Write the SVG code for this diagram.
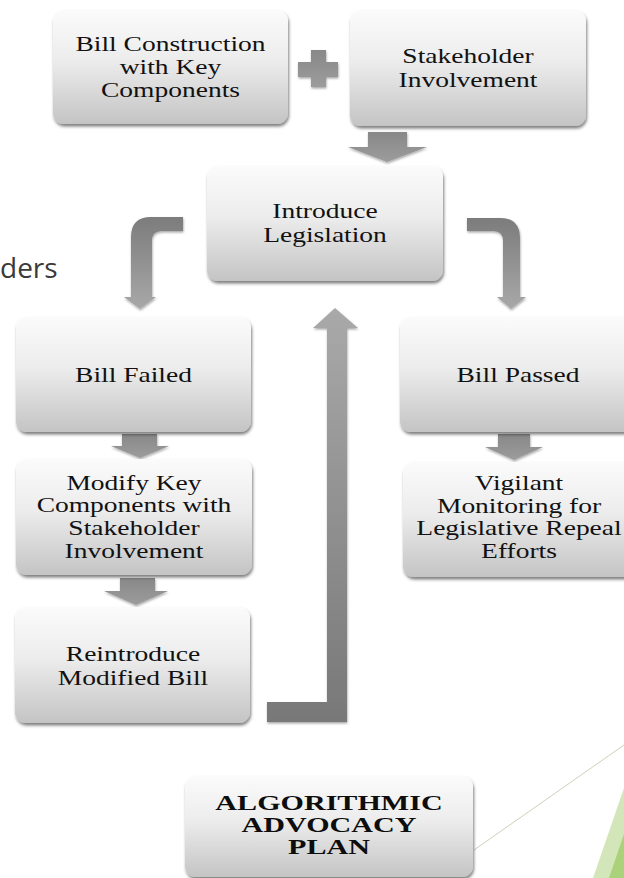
<svg xmlns="http://www.w3.org/2000/svg" width="624" height="878" viewBox="0 0 624 878">
<defs>
<linearGradient id="boxg" x1="0" y1="0" x2="0" y2="1">
<stop offset="0" stop-color="#fbfbfb"/>
<stop offset="0.45" stop-color="#ececec"/>
<stop offset="1" stop-color="#c4c4c4"/>
</linearGradient>
<linearGradient id="arrg" x1="0" y1="0" x2="0" y2="1">
<stop offset="0" stop-color="#888888"/>
<stop offset="1" stop-color="#9c9c9c"/>
</linearGradient>
<linearGradient id="bendg" x1="0" y1="0" x2="0" y2="1">
<stop offset="0" stop-color="#7c7c7c"/>
<stop offset="1" stop-color="#a8a8a8"/>
</linearGradient>
<linearGradient id="upg" x1="0" y1="0" x2="0" y2="1">
<stop offset="0" stop-color="#a9a9a9"/>
<stop offset="1" stop-color="#787878"/>
</linearGradient>
<filter id="sh" x="-10%" y="-10%" width="125%" height="130%">
<feDropShadow dx="1" dy="2.5" stdDeviation="1.6" flood-color="#000" flood-opacity="0.5"/>
</filter>
<filter id="ash" x="-20%" y="-20%" width="140%" height="150%">
<feDropShadow dx="0.5" dy="1.5" stdDeviation="1.2" flood-color="#000" flood-opacity="0.35"/>
</filter>
</defs>
<style>
.box{fill:url(#boxg);filter:url(#sh)}
.t{font-family:"Liberation Serif","Times New Roman",serif;font-size:22px;fill:#111111;text-anchor:middle}
.tb{font-family:"Liberation Serif","Times New Roman",serif;font-size:21.5px;font-weight:bold;fill:#0d0d0d;text-anchor:middle}
.arr{fill:url(#arrg);filter:url(#ash)}
.bend{fill:url(#bendg);filter:url(#ash)}
</style>
<rect width="624" height="878" fill="#ffffff"/>
<text x="0" y="278" font-family="'Open Sans','Noto Sans',sans-serif" font-size="28" fill="#3a3a3a">ders</text>
<line x1="474" y1="850" x2="624" y2="745" stroke="#c8d3bb" stroke-width="1"/>
<polygon points="593,878 624,788 624,878" fill="#d3e6b9"/>
<polygon points="609,878 624,834 624,878" fill="#a9d27a"/>
<g id="connectors">
<g id="plus" class="arr">
<path d="M311,50 H326 V62 H338 V77 H326 V87 H311 V77 H298 V62 H311 Z"/>
</g>
<path class="arr" d="M368,132 H407 V147 H427 L387,162 L348,147 H368 Z"/>
<path class="bend" d="M183,217 L151,217 Q131,217 131,237 L131,297 L124,297 L140,309 L156,297 L152,297 L152,241 Q152,231 162,231 L183,231 Z"/>
<path class="bend" d="M467,218 L500,218 Q520,218 520,238 L520,297 L526,297 L511,309 L497,297 L503,297 L503,241 Q503,231 493,231 L467,231 Z"/>
<path class="arr" d="M122,434 H157 V446 H169 L140,458 L111,446 H122 Z"/>
<path class="arr" d="M120,578 H155 V591 H168 L136,605 L104,591 H120 Z"/>
<path class="arr" d="M498,434 H530 V447 H543 L514,460 L485,447 H498 Z"/>
<path class="arr" style="fill:url(#upg)" d="M335,308 L358,328 L347,328 L347,722 L267,722 L267,702 L327,702 L327,328 L313,328 Z"/>
</g>
<g id="n-bill-construction">
<rect class="box" x="53" y="10" width="235" height="114" rx="11"/>
<text class="t" transform="translate(170.5,0) scale(1.25,1)"><tspan x="0" y="51">Bill Construction</tspan><tspan x="0" y="74">with Key</tspan><tspan x="0" y="97">Components</tspan></text>
</g>
<g id="n-stakeholder">
<rect class="box" x="350" y="10" width="236" height="116" rx="11"/>
<text class="t" transform="translate(468,0) scale(1.25,1)"><tspan x="0" y="63">Stakeholder</tspan><tspan x="0" y="87">Involvement</tspan></text>
</g>
<g id="n-introduce">
<rect class="box" x="207" y="166" width="236" height="115" rx="11"/>
<text class="t" transform="translate(325,0) scale(1.25,1)"><tspan x="0" y="218">Introduce</tspan><tspan x="0" y="242">Legislation</tspan></text>
</g>
<g id="n-bill-failed">
<rect class="box" x="16" y="317" width="235" height="115" rx="11"/>
<text class="t" transform="translate(133.5,0) scale(1.25,1)"><tspan x="0" y="382">Bill Failed</tspan></text>
</g>
<g id="n-modify">
<rect class="box" x="16" y="459" width="236" height="116" rx="11"/>
<text class="t" transform="translate(134,0) scale(1.25,1)"><tspan x="0" y="490">Modify Key</tspan><tspan x="0" y="512.5">Components with</tspan><tspan x="0" y="535">Stakeholder</tspan><tspan x="0" y="558">Involvement</tspan></text>
</g>
<g id="n-reintroduce">
<rect class="box" x="15" y="607" width="235" height="116" rx="11"/>
<text class="t" transform="translate(133,0) scale(1.25,1)"><tspan x="0" y="661">Reintroduce</tspan><tspan x="0" y="685">Modified Bill</tspan></text>
</g>
<g id="n-bill-passed">
<rect class="box" x="400" y="317" width="236" height="115" rx="11"/>
<text class="t" transform="translate(518,0) scale(1.25,1)"><tspan x="0" y="382">Bill Passed</tspan></text>
</g>
<g id="n-vigilant">
<rect class="box" x="403" y="462" width="236" height="115" rx="11"/>
<text class="t" transform="translate(519,0) scale(1.25,1)"><tspan x="0" y="490">Vigilant</tspan><tspan x="0" y="513">Monitoring for</tspan><tspan x="0" y="535.5">Legislative Repeal</tspan><tspan x="0" y="558">Efforts</tspan></text>
</g>
<g id="n-algorithmic">
<rect class="box" x="185" y="776" width="288" height="101" rx="11"/>
<text class="tb" transform="translate(329,0) scale(1.4,1)"><tspan x="0" y="810">ALGORITHMIC</tspan><tspan x="0" y="832">ADVOCACY</tspan><tspan x="0" y="854">PLAN</tspan></text>
</g>
</svg>
